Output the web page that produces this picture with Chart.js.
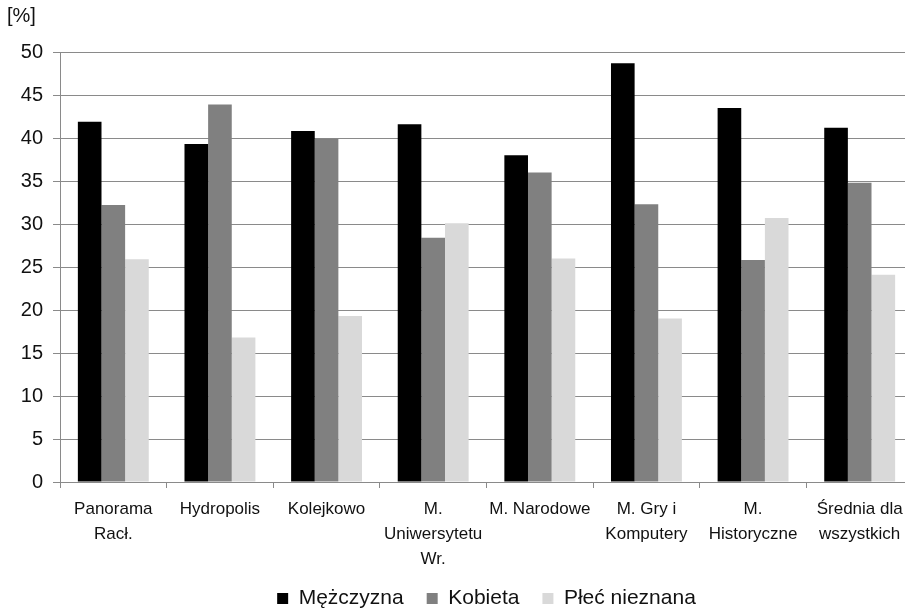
<!DOCTYPE html>
<html>
<head>
<meta charset="utf-8">
<script src="https://cdn.jsdelivr.net/npm/chart.js@4"></script>
<style>
  html, body { margin: 0; padding: 0; background: #fff; overflow: hidden; }
  #wrap { width: 959px; height: 619px; }
</style>
</head>
<body>
<div id="wrap"><canvas id="c"></canvas></div>
<script>
const labels = [
  ['Panorama', 'Racł.'],
  'Hydropolis',
  'Kolejkowo',
  ['M.', 'Uniwersytetu', 'Wr.'],
  'M. Narodowe',
  ['M. Gry i', 'Komputery'],
  ['M.', 'Historyczne'],
  ['Średnia dla', 'wszystkich']
];
const men     = [41.9, 39.3, 40.8, 41.6, 38.0, 48.7, 43.5, 41.2];
const women   = [32.2, 43.9, 39.9, 28.4, 36.0, 32.3, 25.8, 34.8];
const unknown = [25.9, 16.8, 19.3, 30.1, 26.0, 19.0, 30.7, 24.1];
const yTicks  = [0, 5, 10, 15, 20, 25, 30, 35, 40, 45, 50];

const gridGray = '#8a8a8a';
const sans = '"Liberation Sans", Arial, sans-serif';

// "[%]" unit label above the value axis
const unitLabel = {
  id: 'unitLabel',
  afterDraw(chart) {
    const ctx = chart.ctx;
    ctx.save();
    ctx.font = '20px ' + sans;
    ctx.fillStyle = '#111';
    ctx.textBaseline = 'top';
    ctx.fillText('[%]', 7, 6);
    ctx.restore();
  }
};

new Chart(document.getElementById('c'), {
  type: 'bar',
  data: {
    labels: labels,
    datasets: [
      { label: 'Mężczyzna', data: men, backgroundColor: '#000000' },
      { label: 'Kobieta', data: women, backgroundColor: '#808080' },
      { label: 'Płeć nieznana', data: unknown, backgroundColor: '#d9d9d9' }
    ]
  },
  options: {
    responsive: true,
    maintainAspectRatio: false,
    animation: false,
    layout: { padding: { top: 52, right: 46, left: 0, bottom: 0 } },
    datasets: { bar: { categoryPercentage: 0.665, barPercentage: 1.0 } },
    plugins: {
      tooltip: { enabled: false },
      legend: {
        position: 'bottom',
        fullSize: false,
        labels: {
          boxWidth: 11,
          boxHeight: 11,
          padding: 23,
          color: '#111',
          font: { family: sans, size: 21 }
        }
      }
    },
    scales: {
      x: {
        grid: { display: true, drawOnChartArea: false, color: gridGray, tickLength: 6, offset: true },
        border: { color: gridGray, width: 1 },
        ticks: {
          maxRotation: 0,
          autoSkip: false,
          padding: 9,
          color: '#111',
          font: { family: sans, size: 17, lineHeight: 1.47 }
        },
        afterFit(scale) { scale.height = 83; }
      },
      y: {
        min: 0,
        max: 50,
        afterBuildTicks(scale) { scale.ticks = yTicks.map(v => ({ value: v })); },
        grid: { color: gridGray, tickLength: 7 },
        border: { color: gridGray, width: 1 },
        ticks: {
          padding: 10,
          color: '#111',
          font: { family: sans, size: 20 }
        },
        afterFit(scale) { scale.width = 60; }
      }
    }
  },
  plugins: [unitLabel]
});
</script>
</body>
</html>
